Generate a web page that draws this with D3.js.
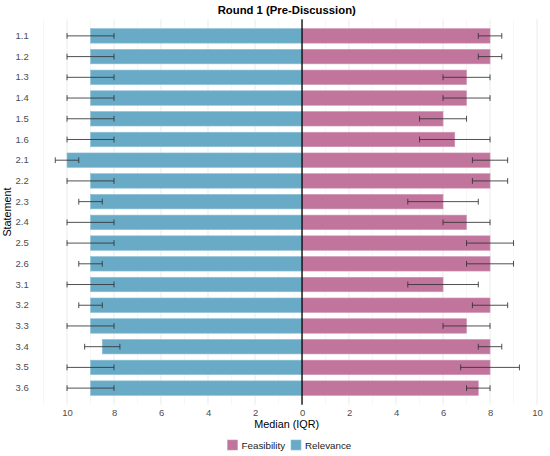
<!DOCTYPE html>
<html>
<head>
<meta charset="utf-8">
<script src="https://cdn.jsdelivr.net/npm/d3@7"></script>
<style>
  body { margin: 0; background: #fff; }
  text { font-family: "Liberation Sans", Arial, sans-serif; }
</style>
</head>
<body>
<svg id="chart" width="550" height="456"></svg>
<script>
// statements, top to bottom
var statements = ["1.1","1.2","1.3","1.4","1.5","1.6","2.1","2.2","2.3","2.4","2.5","2.6","3.1","3.2","3.3","3.4","3.5","3.6"];

// relevance (drawn to the left)
var relMedian = [9,9,9,9,9,9,10,9,9,9,9,9,9,9,9,8.5,9,9];
var relQ1     = [8,8,8,8,8,8,9.5,8,8.5,8,8,8.5,8,8.5,8,7.75,8,8];
var relQ3     = [10,10,10,10,10,10,10.5,10,9.5,10,10,9.5,10,9.5,10,9.25,10,10];

// feasibility (drawn to the right)
var feaMedian = [8,8,7,7,6,6.5,8,8,6,7,8,8,6,8,7,8,8,7.5];
var feaQ1     = [7.5,7.5,6,6,5,5,7.25,7.25,4.5,6,7,7,4.5,7.25,6,7.5,6.75,7];
var feaQ3     = [8.5,8.5,8,8,7,8,8.75,8.75,7.5,8,9,9,7.5,8.75,8,8.5,9.25,8];

var xTicks = [-10,-8,-6,-4,-2,0,2,4,6,8,10];
var legendItems = ["Feasibility", "Relevance"];

var colors = {Feasibility: "#c1749c", Relevance: "#69abc6"};
var outlines = {Feasibility: "#d096b3", Relevance: "#8cc0d6"};

var svg = d3.select("#chart");
var panel = {left: 32, right: 541.5, top: 19.3, bottom: 404.7};

var x = d3.scaleLinear()
    .domain([-11.49, 10.19])
    .range([panel.left, panel.right]);

var y = d3.scaleBand()
    .domain(statements)
    .range([panel.top, panel.bottom])
    .paddingInner(0.3)
    .paddingOuter(0.45);

// vertical grid only
var g = svg.append("g");
var minor = d3.range(-11, 11, 2);
g.selectAll(".minor").data(minor).enter().append("line")
    .attr("x1", d => x(d)).attr("x2", d => x(d))
    .attr("y1", panel.top).attr("y2", panel.bottom)
    .attr("stroke", "#f2f2f2").attr("stroke-width", 0.6);
g.selectAll(".major").data(xTicks).enter().append("line")
    .attr("x1", d => x(d)).attr("x2", d => x(d))
    .attr("y1", panel.top).attr("y2", panel.bottom)
    .attr("stroke", "#ebebeb").attr("stroke-width", 1);

var rows = statements.map(function(s, i) {
    return {s: s, rel: relMedian[i], relQ1: relQ1[i], relQ3: relQ3[i],
            fea: feaMedian[i], feaQ1: feaQ1[i], feaQ3: feaQ3[i]};
});

// bars
g.selectAll(".rel").data(rows).enter().append("rect")
    .attr("x", d => x(-d.rel))
    .attr("width", d => x(0) - x(-d.rel))
    .attr("y", d => y(d.s))
    .attr("height", y.bandwidth())
    .attr("fill", colors.Relevance)
    .attr("stroke", outlines.Relevance).attr("stroke-width", 0.6);

g.selectAll(".fea").data(rows).enter().append("rect")
    .attr("x", x(0))
    .attr("width", d => x(d.fea) - x(0))
    .attr("y", d => y(d.s))
    .attr("height", y.bandwidth())
    .attr("fill", colors.Feasibility)
    .attr("stroke", outlines.Feasibility).attr("stroke-width", 0.6);

// error bars
function errorBars(data, lo, hi) {
    var eb = g.selectAll(null).data(data).enter().append("g")
        .attr("stroke", "#333").attr("stroke-width", 1).attr("stroke-opacity", 0.85);
    var cap = 2.9;
    var mid = d => y(d.s) + y.bandwidth() / 2;
    eb.append("line")
        .attr("x1", d => x(lo(d))).attr("x2", d => x(hi(d)))
        .attr("y1", mid).attr("y2", mid);
    eb.append("line")
        .attr("x1", d => x(lo(d))).attr("x2", d => x(lo(d)))
        .attr("y1", d => mid(d) - cap).attr("y2", d => mid(d) + cap);
    eb.append("line")
        .attr("x1", d => x(hi(d))).attr("x2", d => x(hi(d)))
        .attr("y1", d => mid(d) - cap).attr("y2", d => mid(d) + cap);
}
errorBars(rows, d => -d.relQ3, d => -d.relQ1);
errorBars(rows, d => d.feaQ1, d => d.feaQ3);

// zero line
g.append("line")
    .attr("x1", x(0)).attr("x2", x(0))
    .attr("y1", panel.top).attr("y2", panel.bottom)
    .attr("stroke", "#000").attr("stroke-width", 1.3);

// x axis
var xAxis = svg.append("g")
    .attr("transform", "translate(0," + panel.bottom + ")")
    .call(d3.axisBottom(x).tickValues(xTicks).tickSize(0).tickPadding(4.3)
        .tickFormat(d => Math.abs(d)));
xAxis.select(".domain").remove();
xAxis.selectAll("text").attr("fill", "#4d4d4d").attr("font-size", "9.5px")
    .style("font-family", "Liberation Sans, Arial, sans-serif");

// y axis
var yAxis = svg.append("g")
    .attr("transform", "translate(" + panel.left + ",0)")
    .call(d3.axisLeft(y).tickSize(0).tickPadding(3.3));
yAxis.select(".domain").remove();
yAxis.selectAll("text").attr("fill", "#4d4d4d").attr("font-size", "9.5px")
    .style("font-family", "Liberation Sans, Arial, sans-serif");

// titles
var cx = (panel.left + panel.right) / 2;
svg.append("text")
    .attr("x", cx).attr("y", 13.5)
    .attr("text-anchor", "middle")
    .attr("font-size", "11.3px").attr("font-weight", "bold")
    .text("Round 1 (Pre-Discussion)");

svg.append("text")
    .attr("x", cx).attr("y", 427.5)
    .attr("text-anchor", "middle")
    .attr("font-size", "10.8px")
    .text("Median (IQR)");

svg.append("text")
    .attr("transform", "translate(10.7," + ((panel.top + panel.bottom) / 2) + ") rotate(-90)")
    .attr("text-anchor", "middle")
    .attr("font-size", "10.8px")
    .text("Statement");

// legend
var legend = svg.append("g").attr("transform", "translate(227.5,440)");
var offsets = [0, 63.5];
legendItems.forEach(function(name, i) {
    var item = legend.append("g").attr("transform", "translate(" + offsets[i] + ",0)");
    item.append("rect")
        .attr("width", 10).attr("height", 10)
        .attr("fill", colors[name])
        .attr("stroke", outlines[name]).attr("stroke-width", 0.6);
    item.append("text")
        .attr("x", 14).attr("y", 8.8)
        .attr("font-size", "9.8px")
        .attr("fill", "#1a1a1a")
        .text(name);
});
</script>
</body>
</html>
